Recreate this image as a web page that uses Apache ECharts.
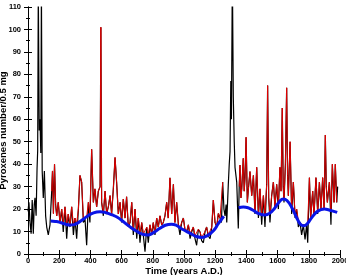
<!DOCTYPE html>
<html lang="en">
<head>
<meta charset="UTF-8">
<title>Pyroxenes</title>
<script src="https://cdn.jsdelivr.net/npm/echarts@6/dist/echarts.min.js"></script>
<style>
  html, body { margin: 0; padding: 0; background: #fff; }
  #chart { width: 346px; height: 275px; }
</style>
</head>
<body>
<div id="chart"></div>
<script>
// record (years A.D.) and pyroxene counts
var years = [0, 6, 13, 20, 27, 34, 40, 45, 52, 58, 62, 66, 72, 77, 82, 86, 91, 98, 105, 113, 120, 130, 141,
  152, 157, 163, 170, 177, 184, 194, 205, 216, 226, 237, 248, 258, 269, 280, 291, 301, 312, 323, 333, 344,
  355, 365, 376, 387, 397, 408, 419, 429, 440, 451, 462, 467, 472, 483, 494, 504, 515, 526, 536, 547, 558,
  568, 579, 590, 600, 611, 622, 632, 643, 654, 665, 675, 686, 697, 707, 718, 729, 739, 750, 761, 771, 782,
  793, 803, 814, 825, 835, 846, 857, 867, 878, 889, 899, 910, 921, 932, 942, 953, 964, 974, 985, 996, 1006,
  1017, 1028, 1039, 1050, 1060, 1070, 1081, 1092, 1103, 1113, 1124, 1135, 1145, 1156, 1167, 1178, 1188, 1199,
  1210, 1220, 1231, 1240, 1248, 1256, 1263, 1270, 1274, 1284, 1290, 1295, 1300, 1304, 1310, 1316, 1322, 1327,
  1338, 1348, 1354, 1359, 1365, 1370, 1380, 1386, 1391, 1398, 1406, 1414, 1423, 1434, 1445, 1455, 1466, 1477,
  1487, 1498, 1509, 1519, 1530, 1536, 1543, 1551, 1562, 1573, 1583, 1594, 1605, 1615, 1622, 1630, 1636, 1641,
  1650, 1658, 1664, 1669, 1680, 1690, 1701, 1712, 1722, 1733, 1744, 1754, 1765, 1776, 1786, 1793, 1804, 1812,
  1825, 1833, 1846, 1857, 1868, 1878, 1889, 1898, 1906, 1912, 1919, 1932, 1942, 1951, 1962, 1970, 1979, 1985];
var pyroxenes = [19, 23, 14, 9, 24, 9, 22, 25, 17, 38, 46, 118, 55, 60, 45, 118, 37, 25, 37, 17, 12, 8.5, 13,
  28, 37, 18, 40, 22, 17, 23, 14, 20, 9.8, 21, 6.8, 17.8, 12, 21, 8.5, 16, 6.8, 20, 35, 32,
  14, 16, 3.9, 23, 14, 46.6, 23, 29, 21, 28, 30, 101, 23, 17, 28, 17.8, 21, 26, 17.8, 29, 43,
  32, 17.8, 23, 14, 24.5, 16, 25.5, 12, 14, 23, 8.5, 20, 6.8, 16, 5, 14, 8.5, 1, 12, 5, 13,
  8.5, 14, 8.5, 16, 12, 17, 13, 14, 17, 23, 16, 33.9, 17.8, 31, 14, 23, 13, 8.5, 14, 16, 11,
  9.8, 13, 6.8, 10, 12, 7, 3.9, 11, 9.8, 6, 5, 10, 12, 8, 6.8, 12, 24, 14,
  12, 18, 16, 14, 32, 20, 17, 22, 14, 31, 40, 45.6, 77, 60, 125, 70, 50, 38.6,
  32, 11.4, 30, 39.6, 25, 29, 42.6, 28, 33.9, 52, 23, 30, 36.7, 26, 35, 17.8, 38.6, 16,
  29, 13, 26, 12, 31, 75, 25, 14, 26, 32, 21, 31, 20, 38.6, 28, 65, 30, 23,
  40, 74, 35, 26, 50, 17.8, 32, 16, 20, 12, 14, 8.5, 13, 6.5, 13, 5, 34, 16,
  28, 17, 34, 17.8, 32, 20, 34, 20, 53, 30, 23, 32, 13, 40, 23, 40, 23, 30];

// smoothed curve (blue), two pieces
var trendYears1 = [145, 175, 200, 235, 270, 300, 340, 380, 420, 462, 500, 540, 570, 610, 650, 700, 735, 765,
  800, 840, 880, 920, 950, 990, 1040, 1080, 1113, 1150, 1190, 1220, 1255];
var trendValues1 = [14.7, 14.5, 14.2, 13.4, 12.9, 13.2, 14.8, 16.8, 18.3, 18.8, 18.4, 17.4, 16.5, 14.5, 12.3, 10, 8.8, 8.5,
  9.3, 11.2, 12.8, 13.3, 12.8, 11, 9.2, 7.8, 7.4, 8.2, 10.5, 13.5, 16.8];
var trendYears2 = [1350, 1380, 1410, 1440, 1480, 1519, 1550, 1580, 1610, 1637, 1660, 1690, 1720, 1745, 1768,
  1790, 1820, 1850, 1880, 1900, 1930, 1960, 1982];
var trendValues2 = [20.6, 20.9, 20.6, 19.6, 18, 17.4, 18.2, 20.3, 23.2, 24.5, 23.8, 20.8, 16.5, 13.4, 12.6,
  13.5, 16.3, 18.7, 19.8, 20, 19.6, 19, 18.5];

function pairs(xs, ys) {
  return xs.map(function (x, i) { return [x, ys[i]]; });
}

// trend level at a given year, used only to pick which part of the record shows red
function trendAt(xs, ys, x) {
  for (var i = 0; i < xs.length - 1; i++) {
    if (x >= xs[i] && x <= xs[i + 1]) {
      var t = (x - xs[i]) / (xs[i + 1] - xs[i]);
      return ys[i] + t * (ys[i + 1] - ys[i]);
    }
  }
  return null;
}

var black = pairs(years, pyroxenes);
var blue = pairs(trendYears1, trendValues1).concat([[1300, null]], pairs(trendYears2, trendValues2));
// red: the record where it rises above the smoothed curve (rest hides under the blue line)
var red = [];
years.forEach(function (y, i) {
  var tr = trendAt(trendYears1, trendValues1, y);
  if (tr === null) tr = trendAt(trendYears2, trendValues2, y);
  if (tr === null) {
    if (red.length && red[red.length - 1][1] !== null) red.push([y, null]);
    return;
  }
  red.push([y, Math.max(pyroxenes[i], tr)]);
});

var font = 'Liberation Sans';
var labelFont = { fontSize: 7.5, fontWeight: 'bold', color: '#000', fontFamily: font };
var nameFont = { fontSize: 9.5, fontWeight: 'bold', color: '#000', fontFamily: font };
var axisLine = { show: true, lineStyle: { color: '#000', width: 1 } };
var tick = { inside: true, length: 4, lineStyle: { color: '#000' } };
var minor = { show: true, splitNumber: 2, length: 2, lineStyle: { color: '#000' } };

var chart = echarts.init(document.getElementById('chart'));
chart.setOption({
  animation: false,
  backgroundColor: '#fff',
  grid: { left: 28, right: 6, top: 7, bottom: 21, outerBoundsMode: 'none' },
  xAxis: [{
    type: 'value', min: 0, max: 2000, interval: 200,
    name: 'Time (years A.D.)', nameLocation: 'middle', nameGap: 12, nameTextStyle: nameFont,
    nameMoveOverlap: false,
    axisLine: axisLine, axisTick: tick, minorTick: minor,
    axisLabel: Object.assign({ margin: 3, formatter: function (v) { return String(v); } }, labelFont),
    splitLine: { show: false }
  }, {
    type: 'value', min: 0, max: 2000, interval: 200, position: 'top',
    axisLine: axisLine, axisTick: tick, minorTick: minor,
    axisLabel: { show: false }, splitLine: { show: false }
  }],
  yAxis: [{
    type: 'value', min: 0, max: 110, interval: 10,
    name: 'Pyroxenes number/0.5 mg', nameLocation: 'middle', nameGap: 20, nameTextStyle: nameFont,
    nameMoveOverlap: false,
    axisLine: axisLine, axisTick: tick, minorTick: minor,
    axisLabel: Object.assign({ margin: 7 }, labelFont),
    splitLine: { show: false }
  }, {
    type: 'value', min: 0, max: 110, interval: 10, position: 'right',
    axisLine: axisLine, axisTick: tick, minorTick: minor,
    axisLabel: { show: false }, splitLine: { show: false }
  }],
  series: [{
    type: 'line', data: black, showSymbol: false, clip: true, z: 2,
    lineStyle: { color: '#000', width: 1.2 }
  }, {
    type: 'line', data: red, showSymbol: false, clip: true, z: 3, connectNulls: false,
    lineStyle: { color: '#e00000', width: 1 }
  }, {
    type: 'line', data: blue, showSymbol: false, clip: true, z: 4, smooth: true, connectNulls: false,
    lineStyle: { color: '#0a14e6', width: 3 }
  }]
});
</script>
</body>
</html>
